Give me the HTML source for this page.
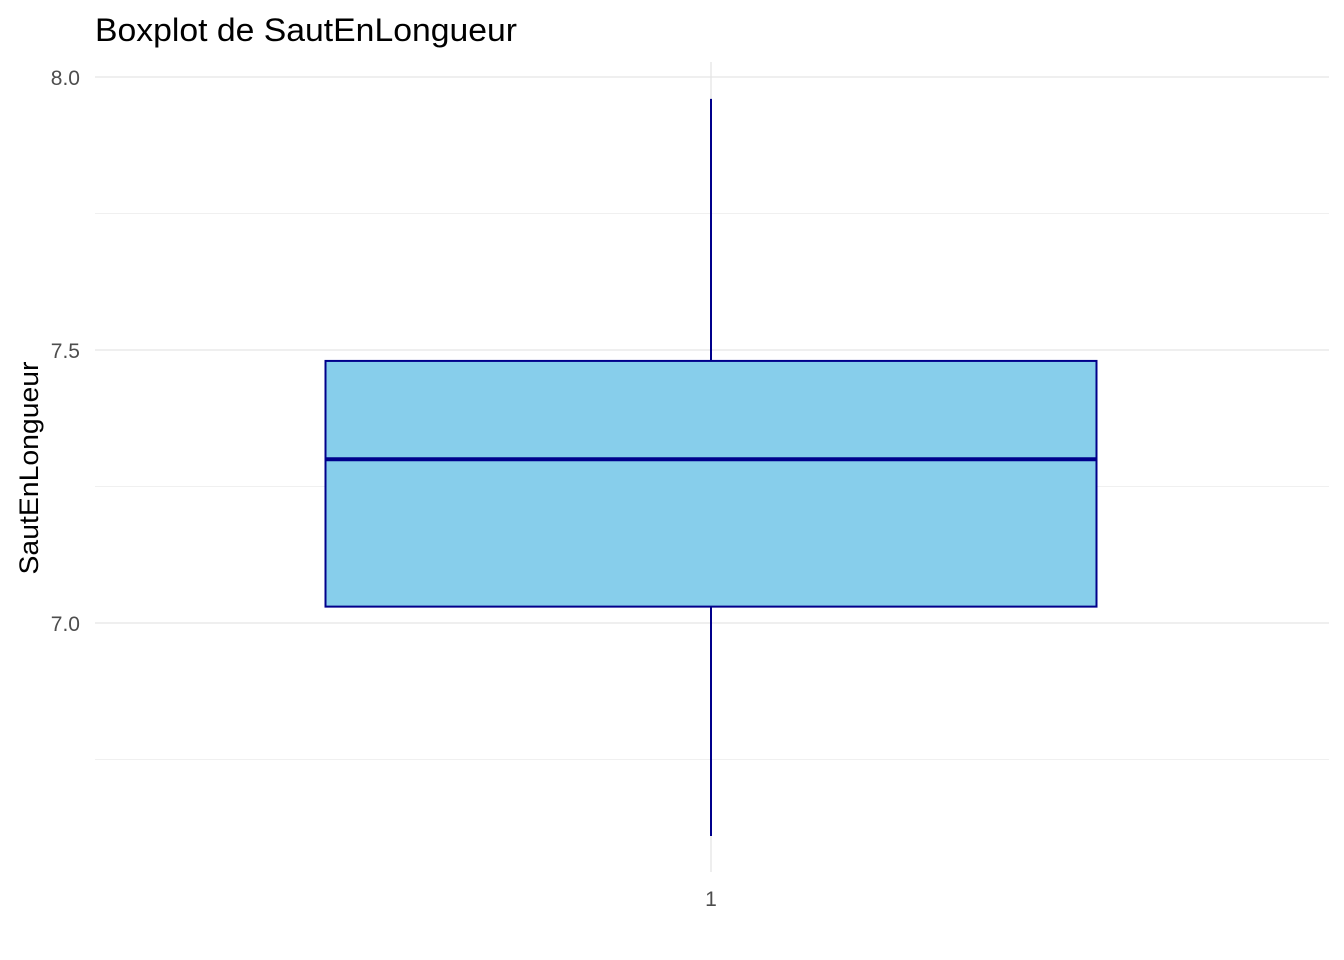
<!DOCTYPE html>
<html><head><meta charset="utf-8"><style>
body{margin:0;background:#fff;}
svg{display:block;font-family:"Liberation Sans",Arial,sans-serif;}
</style></head><body>
<svg id="chart" width="1344" height="960">
<text x="95" y="41" font-size="32" fill="#000" textLength="422" lengthAdjust="spacingAndGlyphs">Boxplot de SautEnLongueur</text>
<text transform="translate(38,468) rotate(-90)" text-anchor="middle" font-size="27" fill="#000" textLength="213" lengthAdjust="spacingAndGlyphs">SautEnLongueur</text>
<g id="grid"></g><g id="marks"></g><g id="labels"></g>
</svg>
<script>
const categories=["1"];
const lowerWhisker=[6.61];
const q1=[7.03];
const median=[7.30];
const q3=[7.48];
const upperWhisker=[7.96];
const yTicks=[7.0,7.5,8.0];
const yTickLabels=["7.0","7.5","8.0"];
const yMinor=[6.75,7.25,7.75];

const NS="http://www.w3.org/2000/svg";
const y=v=>623-(v-7.0)*546;
const x=i=>711+i*0;
const X0=95,X1=1329;
function mk(t,a,p){const e=document.createElementNS(NS,t);for(const k in a)e.setAttribute(k,a[k]);p.appendChild(e);return e;}
const grid=document.getElementById('grid'),marks=document.getElementById('marks'),labels=document.getElementById('labels');
yMinor.forEach(v=>{const l=mk('line',{x1:X0,x2:X1,y1:y(v),y2:y(v),stroke:'#f0f0f0','stroke-width':1},grid);

});
yTicks.forEach((v,i)=>{const l=mk('line',{x1:X0,x2:X1,y1:y(v),y2:y(v),stroke:'#e5e5e5','stroke-width':1.3},grid);


const t=mk('text',{x:80,y:y(v)+8,'text-anchor':'end','font-size':21,fill:'#4d4d4d'},labels);t.textContent=yTickLabels[i];

});
categories.forEach((c,i)=>{
const cx=x(i),hw=385.5;
const g=mk('line',{x1:cx,x2:cx,y1:62,y2:872,stroke:'#e5e5e5','stroke-width':1.3},grid);


const w=mk('line',{x1:cx,x2:cx,y1:y(upperWhisker[i]),y2:y(lowerWhisker[i]),stroke:'#00008b','stroke-width':2},marks);


const b=mk('rect',{x:cx-hw,y:y(q3[i]),width:2*hw,height:y(q1[i])-y(q3[i]),fill:'#87ceeb',stroke:'#00008b','stroke-width':2},marks);


const m=mk('line',{x1:cx-hw,x2:cx+hw,y1:y(median[i]),y2:y(median[i]),stroke:'#00008b','stroke-width':4},marks);


const t=mk('text',{x:cx,y:906,'text-anchor':'middle','font-size':21,fill:'#4d4d4d'},labels);t.textContent=c;


});
</script>
</body></html>
